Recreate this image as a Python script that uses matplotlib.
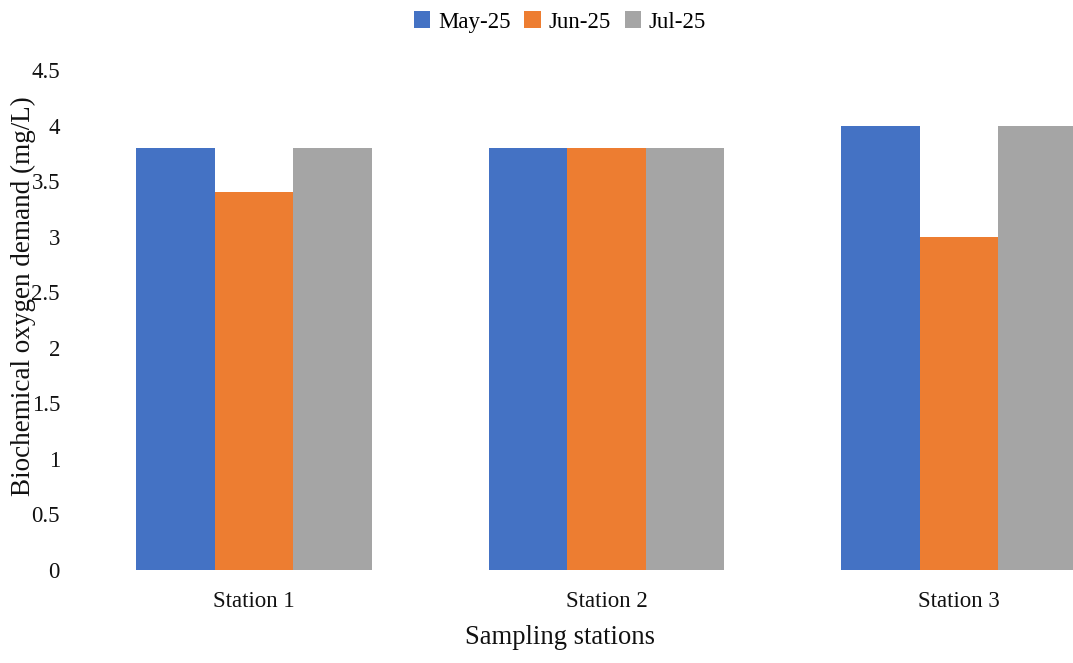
import matplotlib
matplotlib.use('Agg')
import matplotlib.pyplot as plt
import numpy as np

# BOD readings per station for each sampling month
stations = ['Station 1', 'Station 2', 'Station 3']
months = ['May-25', 'Jun-25', 'Jul-25']
may_25 = [3.8, 3.8, 4.0]
jun_25 = [3.4, 3.8, 3.0]
jul_25 = [3.8, 3.8, 4.0]
y_ticks = [0, 0.5, 1, 1.5, 2, 2.5, 3, 3.5, 4, 4.5]

colors = ['#4472C4', '#ED7D31', '#A5A5A5']

plt.rcParams['font.family'] = ['Liberation Serif', 'DejaVu Serif']

fig = plt.figure(figsize=(10.73, 6.63), dpi=100)
ax = fig.add_axes([78 / 1073, 93 / 663, 1 - 78 / 1073, 500 / 663])

x = np.arange(len(stations))
width = 0.2227
for i, (vals, label) in enumerate(zip([may_25, jun_25, jul_25], months)):
    ax.bar(x + (i - 1) * width, vals, width, color=colors[i], label=label)

ax.set_xlim(-0.5, 2.324)
ax.set_ylim(0, 4.5)
ax.set_yticks(y_ticks)
ax.set_yticklabels([f'{t:g}' for t in y_ticks])
ax.set_xticks(x)
ax.set_xticklabels(stations)
ax.tick_params(length=0, labelsize=16.5, colors='#111111')
ax.tick_params(axis='x', pad=15)
ax.tick_params(axis='y', pad=13)
for s in ax.spines.values():
    s.set_visible(False)

fig.text(23 / 1073, 1 - 296 / 663, 'Biochemical oxygen demand (mg/L)', rotation=90,
         ha='center', va='center', fontsize=19.5, color='#111111')
fig.text(560 / 1073, 1 - 637 / 663, 'Sampling stations', ha='center', va='center',
         fontsize=19.2, color='#111111')

fig.legend(loc='center', bbox_to_anchor=(560 / 1073, 1 - 22 / 663), ncol=3, frameon=False,
           fontsize=16.5, handlelength=0.7, handleheight=0.7, handletextpad=0.35,
           columnspacing=0.6)

fig.savefig('out.png', dpi=100)
